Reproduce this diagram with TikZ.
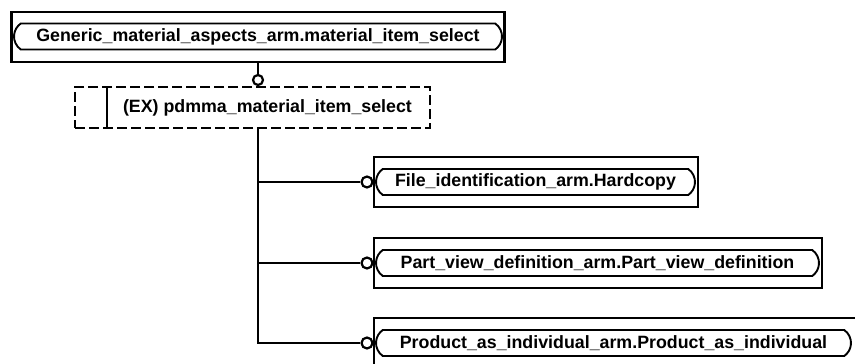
\documentclass[tikz,border=0pt]{standalone}
\usepackage{fontspec}
\setmainfont{Liberation Sans}
\usetikzlibrary{shapes.misc}
\begin{document}
\begin{tikzpicture}[x=1pt,y=-1pt,
  outerbox/.style={draw, line width=2.6pt, rectangle, inner sep=0pt, minimum height=50pt},
  innerbox/.style={draw, line width=1.9pt, rounded rectangle, rounded rectangle arc length=110,
     inner sep=0pt, minimum height=26pt, font=\fontsize{17.8}{20}\selectfont\bfseries},
  exbox/.style={draw, line width=1.9pt, dash pattern=on 10pt off 4pt, rectangle, inner sep=0pt},
  labeltext/.style={inner sep=0pt, font=\fontsize{17.8}{20}\selectfont\bfseries},
  ring/.style={draw, line width=2.2pt, circle, inner sep=0pt, minimum size=10pt, fill=white},
  conn/.style={line width=2pt}]
\useasboundingbox (0,0) rectangle (855,364);

% top box
\node[outerbox, minimum width=493pt] (top) at (258,37) {};
\node[innerbox, minimum width=488pt] (topin) at (258,36.5) {Generic\_material\_aspects\_arm.material\_item\_select};

% dashed EX box
\node[exbox, minimum width=355pt, minimum height=41pt] (ex) at (252.5,107.5) {};
\node[labeltext] (exlabel) at (267.5,107.5) {(EX) pdmma\_material\_item\_select};
\coordinate (ibt) at (107,87);
\coordinate (ibb) at (107,128);
\draw[line width=1.6pt] (ibt) -- (ibb);
\draw[line width=1.6pt] ([xshift=-3pt]ibt) -- ([xshift=3pt]ibt);
\draw[line width=1.6pt] ([xshift=-3pt]ibb) -- ([xshift=3pt]ibb);

% ring between top and EX
\node[ring] (c0) at (258,80) {};
\draw[conn] (top.south) -- (c0.north);
\draw[conn] (c0.south) -- (c0.south |- ex.north);

% right boxes
\node[outerbox, minimum width=324pt] (b1) at (536,182) {};
\node[innerbox, minimum width=319pt] (b1in) at (535.5,182) {File\_identification\_arm.Hardcopy};
\node[outerbox, minimum width=448pt] (b2) at (598,263) {};
\node[innerbox, minimum width=443pt] (b2in) at (597.5,263) {Part\_view\_definition\_arm.Part\_view\_definition};
\node[outerbox, minimum width=483pt] (b3) at (615.5,343) {};
\node[innerbox, minimum width=475pt] (b3in) at (613.5,343) {Product\_as\_individual\_arm.Product\_as\_individual};

% rings at the right boxes
\node[ring, minimum size=11pt] (c1) at (367,182) {};
\node[ring, minimum size=11pt] (c2) at (367,263) {};
\node[ring, minimum size=11pt] (c3) at (367,343) {};

% trunk and branches
\coordinate (j0) at (258,128);
\coordinate (j1) at (258,182);
\coordinate (j2) at (258,263);
\coordinate (j3) at (258,343);
\draw[conn] (j0) -- (j3) -- (c3.west);
\draw[conn] (j1) -- (c1.west);
\draw[conn] (j2) -- (c2.west);
\end{tikzpicture}
\end{document}
